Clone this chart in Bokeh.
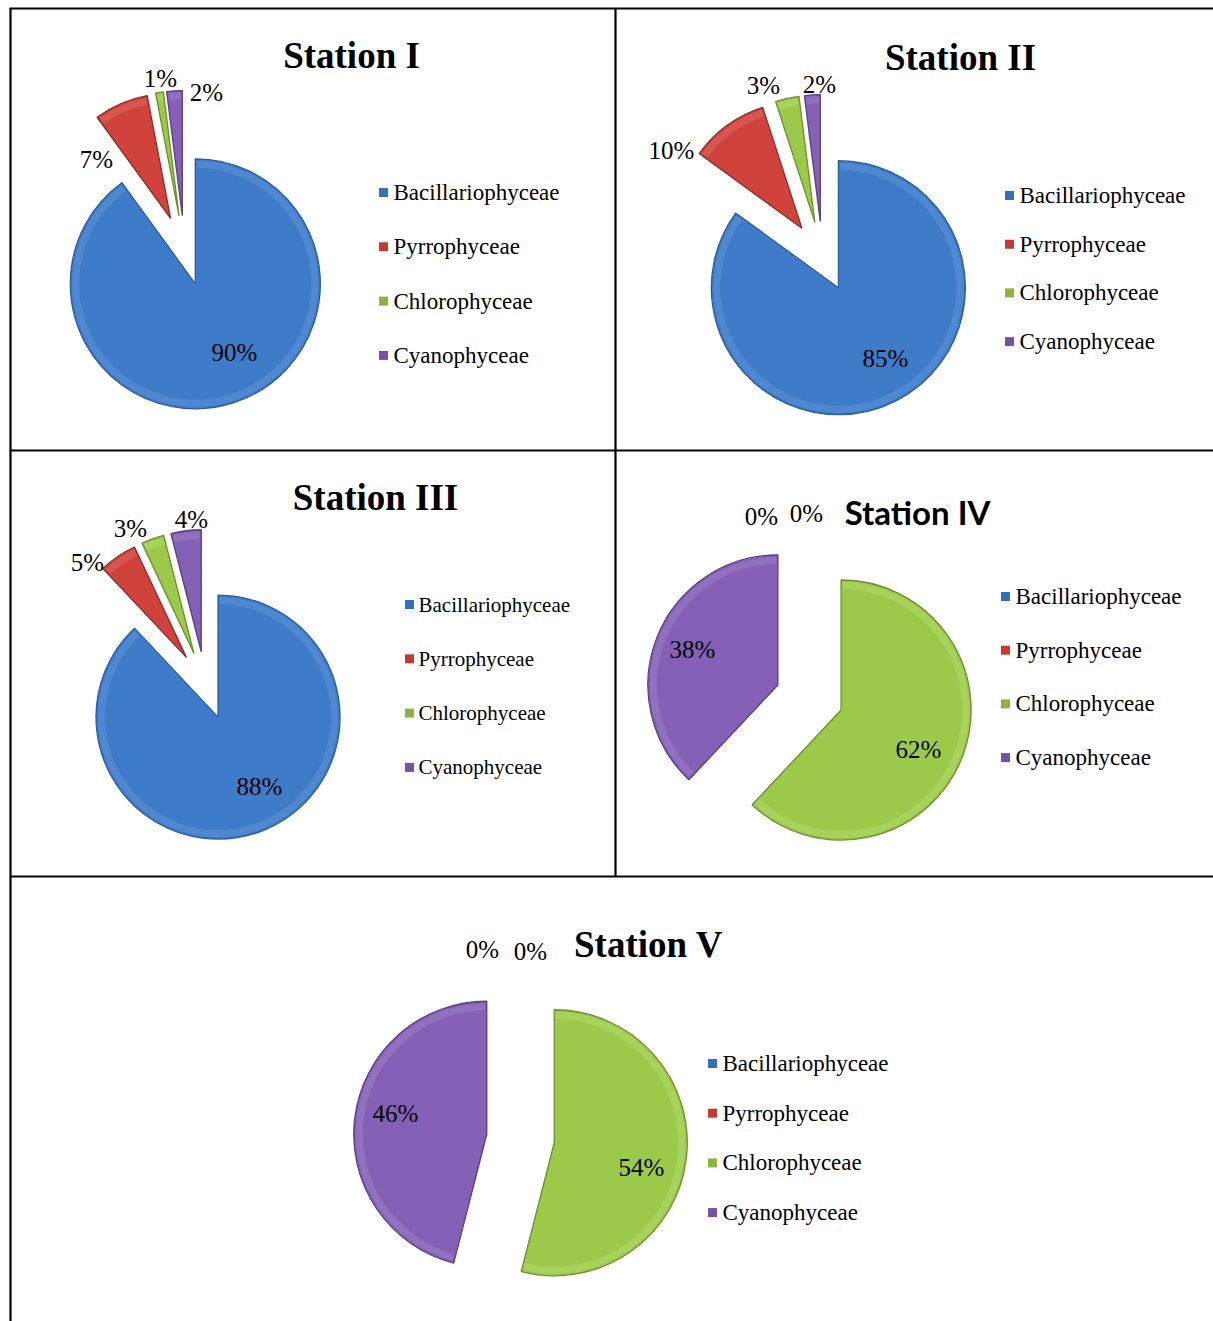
import math
from bokeh.plotting import figure
from bokeh.models import Range1d
from bokeh.embed import file_html
from bokeh.resources import INLINE
from bokeh.core.properties import value

# ---------------- data ----------------
categories = ["Bacillariophyceae", "Pyrrophyceae", "Chlorophyceae", "Cyanophyceae"]
stations = ["Station I", "Station II", "Station III", "Station IV", "Station V"]
station_1 = [90, 7, 1, 2]
station_2 = [85, 10, 3, 2]
station_3 = [88, 5, 3, 4]
station_4 = [0, 0, 62, 38]
station_5 = [0, 0, 54, 46]
station_values = [station_1, station_2, station_3, station_4, station_5]

# ---------------- style ----------------
fill_colors = ["#3E7BC9", "#CF433C", "#9CC94A", "#8460B6"]
edge_colors = ["#2B5C9C", "#8F2B27", "#6C8F2E", "#5A3F82"]
light_colors = ["#7FAEE6", "#EC8A84", "#C8EA8A", "#B39AD8"]
legend_colors = ["#3470BA", "#C23A32", "#8BB43E", "#7450A6"]

W, H = 1213, 1321

# ---------------- layout (image pixel coordinates, y downward) ----------------
panels = [
    dict(c=(184, 250), R=125, d=35, title=(351, 55), tfont="Liberation Serif", tsize="37px",
         leg_sq=383, leg_tx=393, leg_y0=192, leg_dy=54.3, leg_size="23px",
         lab=[(50, 102), (-88, -91), (-24, -172), (22, -158)]),
    dict(c=(822, 256), R=127, d=35, title=(960, 57), tfont="Liberation Serif", tsize="37px",
         leg_sq=1009, leg_tx=1019, leg_y0=195, leg_dy=48.7, leg_size="23px",
         lab=[(63, 102), (-151, -106), (-59, -171), (-3, -172)]),
    dict(c=(205, 685), R=122, d=34, title=(375, 497), tfont="Liberation Serif", tsize="37px",
         leg_sq=409, leg_tx=418, leg_y0=604, leg_dy=54.3, leg_size="21px",
         lab=[(54, 101), (-118, -123), (-75, -157), (-14, -166)]),
    dict(c=(809, 697), R=130, d=34, title=(917, 511), tfont="Lato", tsize="33px",
         leg_sq=1005, leg_tx=1015, leg_y0=596, leg_dy=53.7, leg_size="23px",
         lab=[(-48, -181), (-3, -184), (109, 52), (-117, -48)]),
    dict(c=(520, 1138), R=133, d=34, title=(648, 944), tfont="Liberation Serif", tsize="37px",
         leg_sq=712, leg_tx=722, leg_y0=1063, leg_dy=49.7, leg_size="23px",
         lab=[(-38, -189), (10, -187), (121, 29), (-125, -25)]),
]

# table rules: (x0, y0, x1, y1)
rules = [
    (9, 8, 1213, 8),
    (10, 8, 10, 1321),
    (615, 8, 615, 876),
    (10, 450, 1213, 450),
    (10, 876, 1213, 876),
]


def Y(y):
    return H - y


p = figure(width=W, height=H, output_backend="svg", toolbar_location=None,
           x_range=Range1d(0, W), y_range=Range1d(0, H),
           x_axis_location=None, y_axis_location=None, min_border=0)
p.grid.visible = False
p.outline_line_color = None
p.background_fill_color = "white"
p.border_fill_color = "white"

p.segment(x0=[r[0] for r in rules], y0=[Y(r[1]) for r in rules],
          x1=[r[2] for r in rules], y1=[Y(r[3]) for r in rules],
          line_color="black", line_width=2.2)

serif = value("Liberation Serif")

for name, vals, lay in zip(stations, station_values, panels):
    cx, cy = lay["c"]
    R, d = lay["R"], lay["d"]
    total = float(sum(vals))
    start = 0.0
    for i, v in enumerate(vals):
        span = 360.0 * v / total
        t1, t2 = start, start + span
        start = t2
        if v <= 0:
            continue
        tm = math.radians((t1 + t2) / 2.0)
        vx = cx + d * math.sin(tm)
        vy = Y(cy) + d * math.cos(tm)
        sa, ea = 90.0 - t2, 90.0 - t1
        p.wedge(x=vx, y=vy, radius=R, start_angle=sa, end_angle=ea,
                start_angle_units="deg", end_angle_units="deg", direction="anticlock",
                fill_color=fill_colors[i], line_color=edge_colors[i], line_width=1.3)
        # soft bevel highlight just inside the rim
        p.annular_wedge(x=vx, y=vy, inner_radius=R - 9, outer_radius=R - 2,
                        start_angle=sa + 0.8, end_angle=ea - 0.8,
                        start_angle_units="deg", end_angle_units="deg",
                        fill_color=light_colors[i], fill_alpha=0.28, line_color=None)

    # percentage labels
    lx = [cx + o[0] for o in lay["lab"]]
    ly = [Y(cy + o[1]) for o in lay["lab"]]
    lt = ["%d%%" % v for v in vals]
    p.text(x=lx, y=ly, text=lt, text_font=serif, text_font_size="25px",
           text_align="center", text_baseline="middle", text_color="black")

    # title
    p.text(x=[lay["title"][0]], y=[Y(lay["title"][1])], text=[name],
           text_font=value(lay["tfont"]), text_font_style="bold",
           text_font_size=lay["tsize"], text_align="center", text_baseline="middle",
           text_color="black")

    # legend
    ys = [Y(lay["leg_y0"] + k * lay["leg_dy"]) for k in range(len(categories))]
    p.rect(x=[lay["leg_sq"]] * len(categories), y=ys, width=9, height=9,
           fill_color=legend_colors, line_color=None)
    p.text(x=[lay["leg_tx"]] * len(categories), y=ys, text=categories,
           text_font=serif, text_font_size=lay["leg_size"],
           text_align="left", text_baseline="middle", text_color="black")

open("out.html", "w").write(file_html(p, INLINE))
